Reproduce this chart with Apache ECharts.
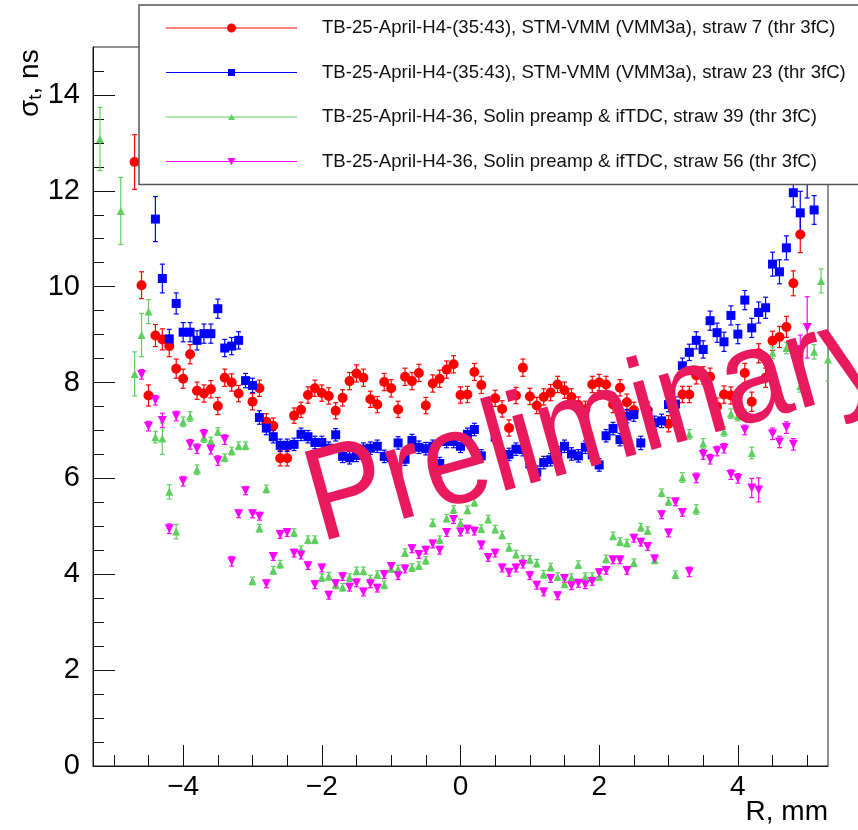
<!DOCTYPE html>
<html><head><meta charset="utf-8">
<script src="https://cdn.jsdelivr.net/npm/echarts@6/dist/echarts.min.js"></script>
<style>html,body{margin:0;padding:0;background:#fff}#c{width:858px;height:830px}</style>
</head><body><div id="c"></div>
<script>
const seriesNames = [
  'TB-25-April-H4-(35:43), STM-VMM (VMM3a), straw 7 (thr 3fC)',
  'TB-25-April-H4-(35:43), STM-VMM (VMM3a), straw 23 (thr 3fC)',
  'TB-25-April-H4-36, Solin preamp & ifTDC, straw 39 (thr 3fC)',
  'TB-25-April-H4-36, Solin preamp & ifTDC, straw 56 (thr 3fC)'
];
// [R (mm), sigma_t (ns), error (ns)]
const straw7 = [[-4.7,12.60,0.57],[-4.6,10.03,0.28],[-4.5,7.73,0.22],[-4.4,8.98,0.23],[-4.3,8.90,0.22],[-4.2,8.76,0.22],[-4.1,8.29,0.2],[-4.0,8.08,0.2],[-3.9,8.59,0.2],[-3.8,7.83,0.18],[-3.7,7.77,0.18],[-3.6,7.86,0.18],[-3.5,7.51,0.18],[-3.4,8.10,0.18],[-3.3,8.00,0.18],[-3.2,7.77,0.17],[-3.0,7.60,0.17],[-2.9,7.88,0.17],[-2.8,7.18,0.17],[-2.7,7.10,0.16],[-2.6,6.42,0.16],[-2.5,6.42,0.16],[-2.4,7.31,0.16],[-2.3,7.43,0.16],[-2.2,7.74,0.17],[-2.1,7.88,0.17],[-2.0,7.78,0.17],[-1.9,7.72,0.17],[-1.8,7.41,0.17],[-1.7,7.68,0.17],[-1.6,8.03,0.18],[-1.5,8.19,0.18],[-1.4,8.10,0.18],[-1.3,7.65,0.17],[-1.2,7.54,0.17],[-1.1,8.01,0.18],[-1.0,7.88,0.18],[-0.9,7.44,0.17],[-0.8,8.12,0.18],[-0.7,8.03,0.18],[-0.6,8.20,0.18],[-0.5,7.52,0.17],[-0.4,7.98,0.18],[-0.3,8.08,0.18],[-0.2,8.27,0.18],[-0.1,8.38,0.18],[0.0,7.74,0.17],[0.1,7.75,0.17],[0.2,8.22,0.18],[0.3,7.95,0.18],[0.4,7.49,0.17],[0.5,7.67,0.17],[0.6,7.45,0.17],[0.7,7.05,0.17],[0.8,7.73,0.17],[0.9,8.31,0.18],[1.0,7.71,0.17],[1.1,7.52,0.17],[1.2,7.70,0.17],[1.3,7.79,0.17],[1.4,7.96,0.17],[1.5,7.84,0.17],[1.6,7.70,0.17],[1.7,7.53,0.17],[1.8,7.44,0.17],[1.9,7.96,0.17],[2.0,8.00,0.17],[2.1,7.96,0.17],[2.2,7.54,0.17],[2.3,7.89,0.17],[2.4,7.59,0.17],[2.5,7.42,0.17],[2.7,7.42,0.17],[3.0,7.14,0.17],[3.2,7.75,0.17],[3.3,7.75,0.17],[3.4,8.15,0.18],[3.5,8.15,0.18],[3.6,8.12,0.18],[3.7,7.50,0.18],[3.8,7.75,0.18],[3.9,7.73,0.18],[4.1,8.20,0.2],[4.2,7.60,0.2],[4.3,8.61,0.2],[4.4,8.10,0.2],[4.5,8.87,0.2],[4.6,8.95,0.22],[4.7,9.16,0.22],[4.8,10.07,0.26],[4.9,11.09,0.38]];
const straw23 = [[-4.4,11.41,0.47],[-4.3,10.17,0.3],[-4.2,8.91,0.2],[-4.1,9.65,0.22],[-4.0,9.05,0.2],[-3.9,9.05,0.2],[-3.8,8.88,0.2],[-3.7,9.02,0.2],[-3.6,9.02,0.2],[-3.5,9.54,0.2],[-3.4,8.72,0.18],[-3.3,8.76,0.18],[-3.2,8.88,0.18],[-3.1,8.04,0.15],[-3.0,7.94,0.15],[-2.9,7.27,0.14],[-2.8,7.05,0.14],[-2.7,6.87,0.13],[-2.6,6.69,0.13],[-2.5,6.69,0.13],[-2.4,6.71,0.13],[-2.3,6.92,0.13],[-2.2,6.87,0.13],[-2.1,6.75,0.13],[-2.0,6.75,0.13],[-1.9,6.63,0.13],[-1.8,6.91,0.13],[-1.7,6.46,0.13],[-1.6,6.43,0.13],[-1.5,6.48,0.13],[-1.4,6.61,0.13],[-1.3,6.63,0.13],[-1.2,6.67,0.13],[-1.1,6.46,0.13],[-1.0,6.43,0.13],[-0.9,6.74,0.13],[-0.8,6.40,0.13],[-0.7,6.79,0.13],[-0.6,6.65,0.13],[-0.5,6.62,0.13],[-0.4,6.67,0.13],[-0.3,6.31,0.13],[-0.2,6.77,0.13],[-0.1,6.77,0.13],[0.0,6.67,0.13],[0.1,6.92,0.13],[0.2,7.02,0.13],[0.3,6.47,0.13],[0.5,6.86,0.13],[0.6,6.50,0.13],[0.7,6.50,0.13],[0.8,6.61,0.13],[0.9,6.60,0.13],[1.0,6.30,0.13],[1.1,6.13,0.13],[1.2,6.33,0.13],[1.3,6.39,0.13],[1.4,6.53,0.13],[1.5,6.67,0.13],[1.6,6.51,0.13],[1.7,6.47,0.13],[1.8,6.65,0.13],[1.9,6.49,0.13],[2.0,6.28,0.13],[2.1,6.89,0.13],[2.2,7.04,0.13],[2.3,6.81,0.13],[2.4,7.30,0.14],[2.5,7.33,0.14],[2.6,6.74,0.14],[2.7,7.38,0.14],[2.8,7.16,0.14],[2.9,7.20,0.14],[3.0,7.54,0.15],[3.1,7.55,0.15],[3.2,8.35,0.16],[3.3,8.63,0.17],[3.4,8.88,0.18],[3.5,8.69,0.18],[3.6,9.29,0.2],[3.7,9.04,0.2],[3.8,8.85,0.2],[3.9,9.40,0.2],[4.0,9.01,0.2],[4.1,9.72,0.2],[4.2,9.14,0.2],[4.3,9.46,0.22],[4.4,9.56,0.22],[4.5,10.47,0.25],[4.6,10.31,0.25],[4.7,10.81,0.25],[4.8,11.96,0.3],[4.9,11.54,0.45],[5.0,12.35,0.5],[5.1,11.60,0.3]];
const straw39 = [[-5.2,13.08,0.66],[-4.9,11.58,0.7],[-4.7,8.18,0.46],[-4.6,8.99,0.45],[-4.5,9.48,0.25],[-4.4,6.86,0.12],[-4.3,6.83,0.33],[-4.2,5.72,0.15],[-4.1,4.89,0.15],[-4.0,7.18,0.1],[-3.9,7.29,0.1],[-3.8,6.18,0.1],[-3.7,6.85,0.1],[-3.6,6.78,0.08],[-3.5,6.98,0.08],[-3.4,6.43,0.08],[-3.3,6.57,0.08],[-3.2,6.68,0.08],[-3.1,6.68,0.08],[-3.0,3.86,0.08],[-2.9,4.96,0.08],[-2.8,5.78,0.08],[-2.7,4.08,0.08],[-2.6,4.21,0.08],[-2.4,4.87,0.08],[-2.3,4.51,0.08],[-2.2,4.72,0.08],[-2.1,4.72,0.08],[-2.0,3.93,0.08],[-1.9,3.96,0.08],[-1.8,3.78,0.08],[-1.7,3.73,0.08],[-1.6,3.93,0.08],[-1.5,4.07,0.08],[-1.4,4.07,0.08],[-1.3,3.90,0.08],[-1.2,3.99,0.08],[-1.1,3.78,0.08],[-1.0,4.12,0.08],[-0.9,4.11,0.08],[-0.8,4.45,0.08],[-0.7,4.14,0.08],[-0.6,4.18,0.08],[-0.5,4.29,0.08],[-0.4,5.07,0.08],[-0.3,4.72,0.08],[-0.2,5.17,0.08],[-0.1,5.35,0.08],[0.0,5.07,0.08],[0.1,5.34,0.08],[0.2,5.50,0.08],[0.3,4.95,0.08],[0.4,5.15,0.08],[0.5,4.94,0.08],[0.6,4.82,0.08],[0.7,4.56,0.08],[0.8,4.42,0.08],[0.9,4.31,0.08],[1.0,4.31,0.08],[1.1,4.23,0.08],[1.2,4.00,0.08],[1.3,4.15,0.08],[1.4,3.95,0.08],[1.5,3.80,0.08],[1.6,3.93,0.08],[1.7,4.20,0.08],[1.8,3.95,0.08],[1.9,3.95,0.08],[2.0,3.95,0.08],[2.1,4.32,0.08],[2.2,4.80,0.08],[2.3,4.68,0.08],[2.4,4.65,0.08],[2.5,4.24,0.08],[2.6,4.98,0.08],[2.7,4.91,0.08],[2.8,4.30,0.08],[2.9,5.70,0.08],[3.0,5.52,0.08],[3.1,3.99,0.08],[3.2,6.02,0.1],[3.3,6.92,0.1],[3.4,5.35,0.1],[3.5,6.73,0.1],[3.6,7.80,0.1],[3.7,7.46,0.1],[3.8,6.98,0.1],[3.9,7.35,0.1],[4.0,7.30,0.1],[4.1,7.33,0.1],[4.2,6.53,0.12],[4.5,8.62,0.12],[4.6,7.78,0.12],[4.7,8.72,0.12],[4.9,7.92,0.12],[5.0,7.79,0.12],[5.1,8.64,0.15],[5.2,10.12,0.25],[5.3,8.48,0.45]];
const straw56 = [[-4.6,8.17,0.1],[-4.5,7.09,0.1],[-4.4,7.63,0.1],[-4.3,7.21,0.15],[-4.2,4.95,0.1],[-4.1,7.30,0.1],[-4.0,5.94,0.1],[-3.9,6.71,0.1],[-3.8,6.62,0.1],[-3.7,6.92,0.1],[-3.6,6.61,0.1],[-3.5,6.37,0.1],[-3.4,6.81,0.1],[-3.3,4.27,0.1],[-3.2,5.26,0.08],[-3.1,5.74,0.08],[-3.0,5.26,0.08],[-2.9,5.21,0.08],[-2.8,3.80,0.08],[-2.7,4.37,0.08],[-2.6,4.83,0.08],[-2.5,4.87,0.08],[-2.4,4.44,0.08],[-2.3,4.40,0.08],[-2.2,4.18,0.08],[-2.1,3.78,0.08],[-2.0,4.13,0.08],[-1.9,3.56,0.08],[-1.8,3.80,0.08],[-1.7,3.95,0.08],[-1.6,3.73,0.08],[-1.5,3.82,0.08],[-1.4,3.63,0.08],[-1.3,3.80,0.08],[-1.2,3.71,0.08],[-1.1,3.99,0.08],[-1.0,4.16,0.08],[-0.9,3.97,0.08],[-0.8,4.11,0.08],[-0.7,4.53,0.08],[-0.6,4.41,0.08],[-0.5,4.50,0.08],[-0.4,4.63,0.08],[-0.3,4.50,0.08],[-0.2,4.87,0.08],[-0.1,5.14,0.08],[0.0,4.88,0.08],[0.1,4.94,0.08],[0.2,4.90,0.08],[0.3,4.61,0.08],[0.4,4.35,0.08],[0.5,4.44,0.08],[0.6,4.13,0.08],[0.7,4.04,0.08],[0.8,4.13,0.08],[0.9,4.21,0.08],[1.0,3.97,0.08],[1.1,3.77,0.08],[1.2,3.63,0.08],[1.3,3.91,0.08],[1.4,3.55,0.08],[1.5,3.91,0.08],[1.6,3.76,0.08],[1.7,3.81,0.08],[1.8,3.78,0.08],[1.9,3.85,0.08],[2.0,4.03,0.08],[2.1,4.08,0.08],[2.2,4.30,0.08],[2.3,4.30,0.08],[2.4,4.08,0.08],[2.5,4.75,0.08],[2.6,4.67,0.08],[2.7,4.58,0.08],[2.8,4.32,0.08],[2.9,5.24,0.08],[3.0,4.86,0.08],[3.1,5.51,0.08],[3.2,5.29,0.08],[3.3,4.05,0.1],[3.4,6.01,0.1],[3.5,6.50,0.1],[3.6,6.40,0.1],[3.7,6.57,0.1],[3.8,6.63,0.1],[3.9,6.08,0.1],[4.0,6.00,0.1],[4.1,7.01,0.1],[4.2,5.80,0.2],[4.3,5.76,0.25],[4.5,6.93,0.12],[4.6,6.76,0.12],[4.7,7.06,0.12],[4.8,6.71,0.12],[4.9,8.69,0.3],[5.0,9.15,0.64]];
const xMajorTicks = [-4,-2,0,2,4];
const xMinorTicks = [-5,-4.5,-3.5,-3,-2.5,-1.5,-1,-0.5,0.5,1,1.5,2.5,3,3.5,4.5,5];
const yMajorTicks = [0,2,4,6,8,10,12,14];
const yMinorTicks = [0.5,1,1.5,2.5,3,3.5,4.5,5,5.5,6.5,7,7.5,8.5,9,9.5,10.5,11,11.5,12.5,13,13.5,14.5];

const FONT = "'Liberation Sans', Arial, Helvetica, sans-serif";
const colors = ['#ff0000', '#0000ff', '#5fcf5f', '#ff00ff'];
const datasets = [straw7, straw23, straw39, straw56];
const symbols = ['circle', 'rect', 'triangle', 'triangle'];
const symbolSizes = [10, 9, 8, 9];
const rotations = [0, 0, 0, 180];
const legendIcons = [
  'path://M0,0L0.01,0ZM0,10L0.01,10ZM0,4.5H131V5.5H0ZM61,5A4.5,4.5,0,1,1,70,5A4.5,4.5,0,1,1,61,5Z',
  'path://M0,0L0.01,0ZM0,10L0.01,10ZM0,4.5H131V5.5H0ZM62,1.5H69V8.5H62Z',
  'path://M0,0L0.01,0ZM0,10L0.01,10ZM0,4.5H131V5.5H0ZM65.5,2L69,8H62Z',
  'path://M0,0L0.01,0ZM0,10L0.01,10ZM0,4.5H131V5.5H0ZM61.5,1.5H69.5L65.5,8.5Z'
];
const fmt = v => String(v).replace('-', '\u2212');

const chart = echarts.init(document.getElementById('c'), null, {renderer: 'canvas'});

const series = [];
datasets.forEach((d, i) => {
  series.push({
    type: 'custom', name: seriesNames[i] + ' err', xAxisIndex: 0, yAxisIndex: 0, silent: true, z: 2,
    clip: true,
    data: d.map(p => [p[0], p[1] - p[2], p[1] + p[2]]),
    renderItem: (params, api) => {
      const lo = api.coord([api.value(0), api.value(1)]);
      const hi = api.coord([api.value(0), api.value(2)]);
      const w = 2.5, st = {stroke: colors[i], lineWidth: 1.2};
      return {type: 'group', children: [
        {type: 'line', shape: {x1: lo[0], y1: lo[1], x2: hi[0], y2: hi[1]}, style: st},
        {type: 'line', shape: {x1: lo[0] - w, y1: lo[1], x2: lo[0] + w, y2: lo[1]}, style: st},
        {type: 'line', shape: {x1: hi[0] - w, y1: hi[1], x2: hi[0] + w, y2: hi[1]}, style: st}
      ]};
    }
  });
});
datasets.forEach((d, i) => {
  series.push({
    type: 'scatter', name: seriesNames[i], xAxisIndex: 0, yAxisIndex: 0, z: 3,
    symbol: symbols[i], symbolSize: symbolSizes[i], symbolRotate: rotations[i],
    itemStyle: {color: colors[i], opacity: 1},
    data: d.map(p => [p[0], p[1]])
  });
});

const axisCommon = {
  type: 'value', splitLine: {show: false}
};

chart.setOption({
  animation: false,
  backgroundColor: '#fff',
  grid: {left: 93, right: 30, top: 47, bottom: 64, show: true, borderColor: '#222', borderWidth: 1, backgroundColor: 'transparent'},
  xAxis: [
    Object.assign({}, axisCommon, {
      min: -5.3, max: 5.3, position: 'bottom',
      axisLine: {show: true, onZero: false, lineStyle: {color: '#111', width: 1}},
      axisTick: {show: true, inside: true, length: 21, customValues: xMajorTicks, lineStyle: {color: '#111'}},
      axisLabel: {show: true, customValues: xMajorTicks, formatter: fmt, fontSize: 28, fontFamily: FONT, color: '#000', margin: 7}
    }),
    Object.assign({}, axisCommon, {
      min: -5.3, max: 5.3, position: 'bottom',
      axisLine: {show: false, onZero: false},
      axisTick: {show: true, inside: true, length: 11, customValues: xMinorTicks, lineStyle: {color: '#111'}},
      axisLabel: {show: false}
    })
  ],
  yAxis: [
    Object.assign({}, axisCommon, {
      min: 0, max: 15, position: 'left',
      axisLine: {show: true, onZero: false, lineStyle: {color: '#111', width: 1}},
      axisTick: {show: true, inside: true, length: 22, customValues: yMajorTicks, lineStyle: {color: '#111'}},
      axisLabel: {show: true, customValues: yMajorTicks, fontSize: 29, fontFamily: FONT, color: '#000', margin: 13}
    }),
    Object.assign({}, axisCommon, {
      min: 0, max: 15, position: 'left', offset: 0,
      axisLine: {show: false, onZero: false},
      axisTick: {show: true, inside: true, length: 11, customValues: yMinorTicks, lineStyle: {color: '#111'}},
      axisLabel: {show: false}
    })
  ],
  legend: {
    show: true, orient: 'vertical', left: 139, top: 5,
    padding: [13, 60, 13, 27], itemWidth: 131, itemHeight: 10, itemGap: 24.5,
    backgroundColor: '#fff', borderColor: '#555', borderWidth: 1.5, borderRadius: 0,
    selectedMode: false,
    textStyle: {fontSize: 18.6, fontFamily: FONT, color: '#111', lineHeight: 20, padding: [0, 0, 0, 20]},
    data: seriesNames.map((n, i) => ({name: n, icon: legendIcons[i]}))
  },
  graphic: [
    {type: 'text', x: 30, y: 117, rotation: Math.PI / 2, z: 50,
      style: {text: '{a|σ}{b|t}{a|, ns}', rich: {a: {fontSize: 28, fontFamily: FONT, fill: '#000', lineHeight: 30}, b: {fontSize: 19, fontFamily: FONT, fill: '#000', verticalAlign: 'bottom', lineHeight: 12}}, align: 'left', verticalAlign: 'middle'}},
    {type: 'text', x: 828, y: 812, z: 50,
      style: {text: 'R, mm', fontSize: 28, fontFamily: FONT, fill: '#000', align: 'right', verticalAlign: 'middle'}},
    {type: 'text', x: 310, y: 507, rotation: 15.5 * Math.PI / 180, scaleX: 0.9, scaleY: 1, z: 100,
      style: {text: 'Preliminary', fontSize: 132, fontFamily: FONT, fill: '#e8195c', align: 'left', verticalAlign: 'middle'}}
  ],
  series: series
});
</script></body></html>
